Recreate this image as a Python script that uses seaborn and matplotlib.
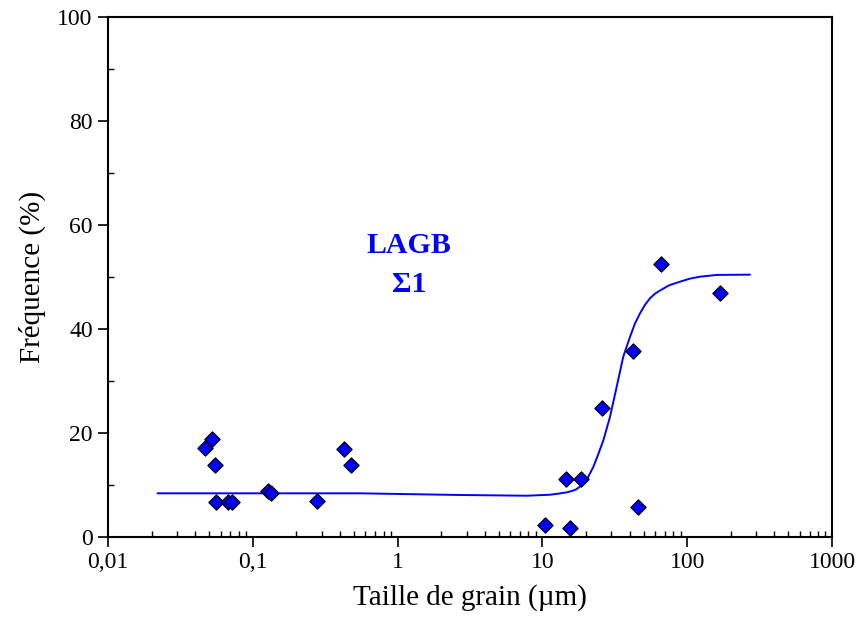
import numpy as np
import pandas as pd
import matplotlib
matplotlib.use("Agg")
import matplotlib.pyplot as plt
import seaborn as sns
from matplotlib.ticker import LogLocator, FixedLocator, FuncFormatter, MultipleLocator

# Data points (grain size in µm, frequency in %)
grain_size = [0.0468, 0.052, 0.0548, 0.0557, 0.0671, 0.0715, 0.128, 0.133,
              0.276, 0.427, 0.477, 10.4, 15.5, 14.5, 18.6, 25.8, 42.0, 45.9,
              66.2, 168.6]
frequency = [17.1, 18.9, 13.8, 6.7, 6.8, 6.8, 8.9, 8.5,
             6.9, 16.9, 13.8, 2.4, 1.8, 11.1, 11.1, 24.8, 35.8, 5.8,
             52.5, 46.9]

# Fitted curve
curve_x = [0.022, 0.1, 0.549, 2.70, 7.83, 11.3, 13.0, 14.8, 16.0, 17.1, 18.6,
           20.2, 22.5, 24.3, 26.4, 29.3, 32.6, 36.2, 40.3, 43.5, 47.2, 51.0,
           55.3, 60.0, 64.9, 75.0, 89.1, 105.0, 122.5, 160, 271.5]
curve_y = [8.40, 8.40, 8.40, 8.08, 7.94, 8.13, 8.35, 8.60, 8.85, 9.15, 9.9,
           10.96, 13.5, 15.9, 18.65, 23.1, 28.9, 34.7, 38.5, 41.0, 43.0, 44.6,
           45.9, 46.8, 47.4, 48.4, 49.1, 49.7, 50.06, 50.4, 50.45]

x_ticks = [0.01, 0.1, 1, 10, 100, 1000]
x_ticklabels = ["0,01", "0,1", "1", "10", "100", "1000"]
y_ticks = [0, 20, 40, 60, 80, 100]

sns.set_theme(style="white")
plt.rcParams['font.family'] = ['Liberation Serif', 'DejaVu Serif']

fig = plt.figure(figsize=(8.58, 6.25), dpi=100)
ax = fig.add_axes([108/858, 88/625, (832-108)/858, (537-17)/625])

df_pts = pd.DataFrame({"x": grain_size, "y": frequency})
df_curve = pd.DataFrame({"x": curve_x, "y": curve_y})

ax.set_xscale("log")
sns.lineplot(data=df_curve, x="x", y="y", ax=ax, color="#0000ff", lw=1.4,
             sort=False, estimator=None)
sns.scatterplot(data=df_pts, x="x", y="y", ax=ax, marker="D", s=60,
                color="#0000ff", edgecolor="black", linewidth=0.9, zorder=3)

ax.set_xlim(0.01, 1000)
ax.set_ylim(0, 100)
ax.xaxis.set_major_locator(FixedLocator(x_ticks))
ax.xaxis.set_major_formatter(FuncFormatter(lambda v, p: x_ticklabels[x_ticks.index(min(x_ticks, key=lambda t: abs(np.log10(t) - np.log10(v))))]))
ax.xaxis.set_minor_locator(LogLocator(base=10, subs=np.arange(2, 10), numticks=20))
ax.yaxis.set_major_locator(FixedLocator(y_ticks))
ax.yaxis.set_minor_locator(MultipleLocator(10))

ax.tick_params(axis="both", which="major", direction="out", length=7, width=1.2,
               labelsize=17, color="black", labelcolor="black", bottom=True, left=True,
               top=False, right=False, pad=4)
ax.tick_params(axis="both", which="minor", direction="in", length=4, width=1.0,
               color="black", bottom=True, left=True, top=False, right=False)

for sp in ax.spines.values():
    sp.set_color("black")
    sp.set_linewidth(1.5)

ax.set_xlabel("Taille de grain (µm)", fontsize=21, color="black", labelpad=8)
ax.set_ylabel("Fréquence (%)", fontsize=21, color="black", labelpad=8)

ax.text(1.2, 56, "LAGB", ha="center", va="center", fontsize=21.5,
        fontweight="bold", color="#0000ff")
ax.text(1.2, 48.5, "Σ1", ha="center", va="center", fontsize=21.5,
        fontweight="bold", color="#0000ff")

fig.savefig("out.png", dpi=100, facecolor="white")
